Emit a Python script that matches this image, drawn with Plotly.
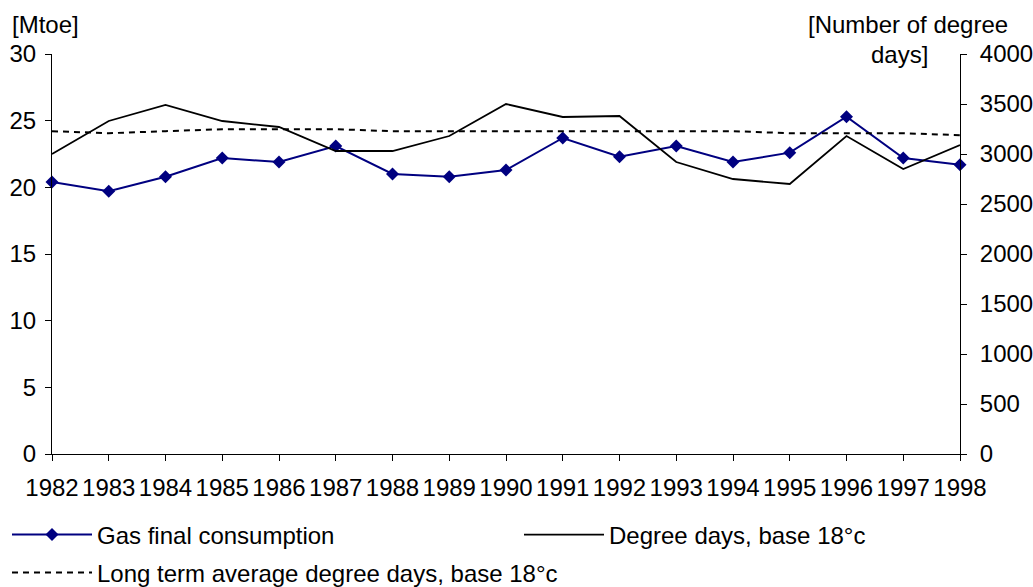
import plotly.graph_objects as go

years = list(range(1982, 1999))
gas_consumption = [20.4, 19.7, 20.8, 22.2, 21.9, 23.1, 21.0, 20.8, 21.3, 23.7, 22.3, 23.1, 21.9, 22.6, 25.3, 22.2, 21.7]
degree_days = [3000, 3330, 3490, 3330, 3270, 3030, 3030, 3180, 3500, 3370, 3380, 2920, 2750, 2700, 3180, 2850, 3090]
long_term_avg = [3228, 3208, 3228, 3248, 3248, 3248, 3228, 3228, 3228, 3228, 3228, 3228, 3228, 3208, 3208, 3208, 3188]

left_ticks = [0, 5, 10, 15, 20, 25, 30]
right_ticks = [0, 500, 1000, 1500, 2000, 2500, 3000, 3500, 4000]

FONT = "Liberation Sans, Arial, sans-serif"
FS = 24

fig = go.Figure()
fig.add_trace(go.Scatter(
    x=years, y=gas_consumption, name="Gas final consumption",
    mode="lines+markers", line=dict(color="#000080", width=2),
    marker=dict(symbol="diamond", size=10, color="#000080"),
    yaxis="y", legend="legend", cliponaxis=False))
fig.add_trace(go.Scatter(
    x=years, y=degree_days, name="Degree days, base 18°c",
    mode="lines", line=dict(color="black", width=1.8),
    yaxis="y2", legend="legend2", cliponaxis=False))
fig.add_trace(go.Scatter(
    x=years, y=long_term_avg, name="Long term average degree days, base 18°c",
    mode="lines", line=dict(color="black", width=2, dash="6px,5px"),
    yaxis="y2", legend="legend3", cliponaxis=False))

legend_common = dict(xref="container", yref="container", xanchor="left",
                     yanchor="middle", itemwidth=80, bgcolor="rgba(0,0,0,0)",
                     borderwidth=0, font=dict(family=FONT, size=FS, color="black"))

fig.update_layout(
    width=1033, height=587,
    margin=dict(l=52, r=73, t=54, b=133, autoexpand=False),
    paper_bgcolor="white", plot_bgcolor="white",
    font=dict(family=FONT, size=FS, color="black"),
    showlegend=True,
    xaxis=dict(
        range=[1982, 1998], tickmode="array", tickvals=years,
        ticktext=[str(y) for y in years], showgrid=False, zeroline=False,
        showline=True, linecolor="black", linewidth=1,
        ticks="outside", ticklen=6, tickcolor="black", ticklabelstandoff=6,
        tickfont=dict(family=FONT, size=FS, color="black")),
    yaxis=dict(
        range=[0, 30], tickmode="array", tickvals=left_ticks,
        showgrid=False, zeroline=False, showline=True, linecolor="black",
        linewidth=1, ticks="outside", ticklen=6, tickcolor="black",
        ticklabelstandoff=4,
        tickfont=dict(family=FONT, size=FS, color="black")),
    yaxis2=dict(
        range=[0, 4000], tickmode="array", tickvals=right_ticks,
        overlaying="y", side="right", showgrid=False, zeroline=False,
        showline=True, linecolor="black", linewidth=1,
        ticks="outside", ticklen=6, tickcolor="black", ticklabelstandoff=8,
        tickfont=dict(family=FONT, size=FS, color="black")),
    legend=dict(legend_common, x=7 / 1033, y=1 - 535 / 587),
    legend2=dict(legend_common, x=519 / 1033, y=1 - 535 / 587),
    legend3=dict(legend_common, x=7 / 1033, y=1 - 573 / 587),
    annotations=[
        dict(text="[Mtoe]", xref="paper", yref="paper", x=-52 / 908 + 10 / 908,
             y=1 + 29 / 400, xanchor="left", yanchor="middle", showarrow=False,
             font=dict(family=FONT, size=FS, color="black")),
        dict(text="[Number of degree", xref="paper", yref="paper", x=1 + 50 / 908,
             y=1 + 29 / 400, xanchor="right", yanchor="middle", showarrow=False,
             font=dict(family=FONT, size=FS, color="black")),
        dict(text="days]", xref="paper", yref="paper", x=1 - 30 / 908,
             y=1 - 1 / 400, xanchor="right", yanchor="middle", showarrow=False,
             font=dict(family=FONT, size=FS, color="black")),
    ],
)

fig.write_html("out.html")
